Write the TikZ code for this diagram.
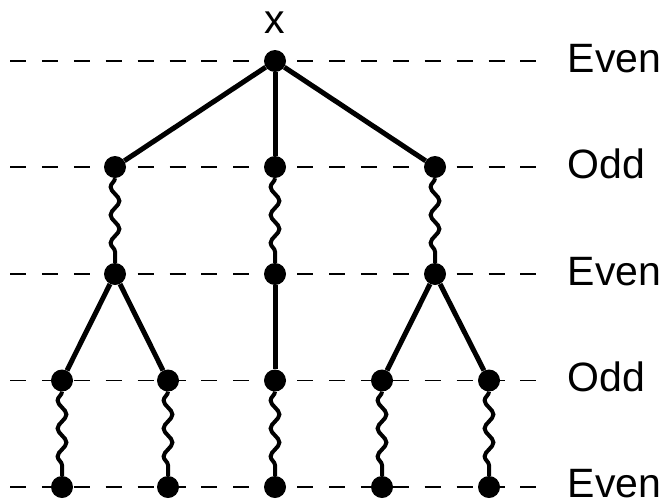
\documentclass[tikz,border=0pt]{standalone}
\usepackage{fontspec}
\setmainfont{Liberation Sans}
\usetikzlibrary{decorations.pathmorphing}
\begin{document}
\begin{tikzpicture}[x=1pt,y=-1pt,
  dot/.style={circle,fill=black,inner sep=0pt,minimum size=22pt},
  edge/.style={line width=5pt},
  wavy/.style={line width=4pt,decorate,decoration={snake,mirror,amplitude=4.4pt,segment length=28pt}},
  guide/.style={line width=1.5pt,dash pattern=on 16pt off 15.9pt},
  lab/.style={font=\fontsize{41}{49}\selectfont,inner sep=0pt}]
\useasboundingbox (0,0) rectangle (666,498);
% guide lines
\foreach \i/\y in {1/61,2/167,3/274,4/380.5,5/487}{
  \coordinate (gl\i) at (10,\y);
  \coordinate (gr\i) at (536.5,\y);
  \draw[guide] (gl\i) -- (gr\i);
}
% labels
\node[lab,anchor=base west] (t1) at (567.5,72.5) {Even};
\node[lab,anchor=base west] (t2) at (567.5,178) {Odd};
\node[lab,anchor=base west] (t3) at (567.5,285.5) {Even};
\node[lab,anchor=base west] (t4) at (567.5,391.5) {Odd};
\node[lab,anchor=base west] (t5) at (567.5,497.5) {Even};
\node[lab,anchor=base] (xl) at (275,33.5) {x};
% dots
\node[dot] (r) at (275,61) {};
\node[dot] (a1) at (115,167) {};
\node[dot] (b1) at (275,167) {};
\node[dot] (c1) at (435,167) {};
\node[dot] (a2) at (115,274) {};
\node[dot] (b2) at (275,274) {};
\node[dot] (c2) at (435,274) {};
\node[dot] (d3) at (62,380.5) {};
\node[dot] (e3) at (168,380.5) {};
\node[dot] (b3) at (275,380.5) {};
\node[dot] (f3) at (382,380.5) {};
\node[dot] (g3) at (489,380.5) {};
\node[dot] (d4) at (62,487) {};
\node[dot] (e4) at (168,487) {};
\node[dot] (b4) at (275,487) {};
\node[dot] (f4) at (382,487) {};
\node[dot] (g4) at (489,487) {};
% edges
\draw[edge] (r) -- (a1);
\draw[edge] (r) -- (b1);
\draw[edge] (r) -- (c1);
\draw[edge] (a2) -- (d3);
\draw[edge] (a2) -- (e3);
\draw[edge] (b2) -- (b3);
\draw[edge] (c2) -- (f3);
\draw[edge] (c2) -- (g3);
% wavy
\draw[wavy] (a1) -- (a2);
\draw[wavy] (b1) -- (b2);
\draw[wavy] (c1) -- (c2);
\draw[wavy] (d3) -- (d4);
\draw[wavy] (e3) -- (e4);
\draw[wavy] (b3) -- (b4);
\draw[wavy] (f3) -- (f4);
\draw[wavy] (g3) -- (g4);
\end{tikzpicture}
\end{document}
